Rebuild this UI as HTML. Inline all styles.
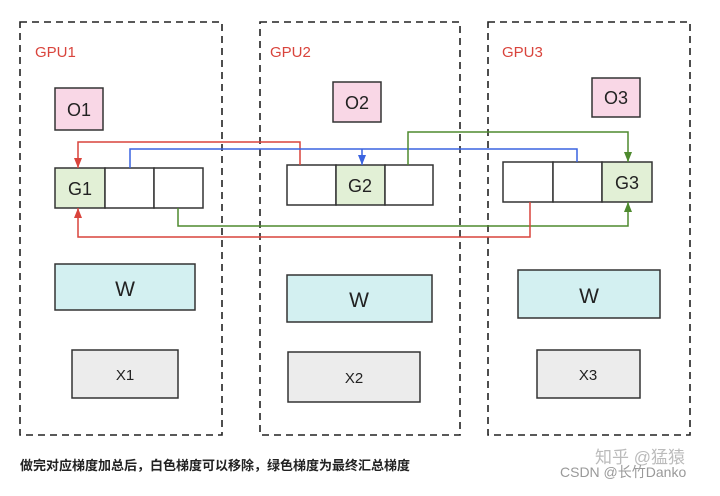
<!DOCTYPE html>
<html><head><meta charset="utf-8"><style>
body{margin:0;background:#fff;}
svg text{font-family:"Liberation Sans","Noto Sans CJK SC",sans-serif;}
</style></head><body>
<svg width="720" height="491" xmlns="http://www.w3.org/2000/svg">
<defs>
<marker id="r" markerWidth="8" markerHeight="10" refX="4" refY="10" orient="0" markerUnits="userSpaceOnUse"><path d="M0,0 L8,0 L4,10 z" fill="#d9443c"/></marker>
<marker id="ru" markerWidth="8" markerHeight="10" refX="4" refY="0" orient="0" markerUnits="userSpaceOnUse"><path d="M0,10 L8,10 L4,0 z" fill="#d9443c"/></marker>
<marker id="b" markerWidth="8" markerHeight="10" refX="4" refY="10" orient="0" markerUnits="userSpaceOnUse"><path d="M0,0 L8,0 L4,10 z" fill="#3a63e0"/></marker>
<marker id="g" markerWidth="8" markerHeight="10" refX="4" refY="10" orient="0" markerUnits="userSpaceOnUse"><path d="M0,0 L8,0 L4,10 z" fill="#4e8a2e"/></marker>
<marker id="gu" markerWidth="8" markerHeight="10" refX="4" refY="0" orient="0" markerUnits="userSpaceOnUse"><path d="M0,10 L8,10 L4,0 z" fill="#4e8a2e"/></marker>
</defs>
<g fill="none" stroke="#222" stroke-width="1.6" stroke-dasharray="7,5">
<rect x="20" y="22" width="202" height="413"/>
<rect x="260" y="22" width="200" height="413"/>
<rect x="488" y="22" width="202" height="413"/>
</g>
<g font-size="15" fill="#d9443c">
<text x="35" y="57">GPU1</text><text x="270" y="57">GPU2</text><text x="502" y="57">GPU3</text>
</g>
<g stroke="#333" stroke-width="1.5">
<rect x="55" y="88" width="48" height="42" fill="#f9d7e6"/>
<rect x="333" y="82" width="48" height="40" fill="#f9d7e6"/>
<rect x="592" y="78" width="48" height="39" fill="#f9d7e6"/>
<rect x="55" y="264" width="140" height="46" fill="#d3f0f1"/>
<rect x="287" y="275" width="145" height="47" fill="#d3f0f1"/>
<rect x="518" y="270" width="142" height="48" fill="#d3f0f1"/>
<rect x="72" y="350" width="106" height="48" fill="#ececec"/>
<rect x="288" y="352" width="132" height="50" fill="#ececec"/>
<rect x="537" y="350" width="103" height="48" fill="#ececec"/>
<rect x="55" y="168" width="50" height="40" fill="#e2f0d6"/><rect x="105" y="168" width="49" height="40" fill="#fff"/><rect x="154" y="168" width="49" height="40" fill="#fff"/>
<rect x="287" y="165" width="49" height="40" fill="#fff"/><rect x="336" y="165" width="49" height="40" fill="#e2f0d6"/><rect x="385" y="165" width="48" height="40" fill="#fff"/>
<rect x="503" y="162" width="50" height="40" fill="#fff"/><rect x="553" y="162" width="49" height="40" fill="#fff"/><rect x="602" y="162" width="50" height="40" fill="#e2f0d6"/>
</g>
<g font-size="18" fill="#222" text-anchor="middle">
<text x="79" y="116">O1</text><text x="357" y="109">O2</text><text x="616" y="104">O3</text>
<text x="80" y="195">G1</text><text x="360" y="192">G2</text><text x="627" y="189">G3</text>
<text x="125" y="296" font-size="21">W</text><text x="359" y="307" font-size="21">W</text><text x="589" y="303" font-size="21">W</text>
<text x="125" y="380" font-size="15">X1</text><text x="354" y="383" font-size="15">X2</text><text x="588" y="380" font-size="15">X3</text>
</g>
<g fill="none" stroke-width="1.5">
<path d="M300,165 V142 H78 V168" stroke="#d9443c" marker-end="url(#r)"/>
<path d="M130,168 V149 H577 V162" stroke="#3a63e0"/>
<path d="M362,149 V165" stroke="#3a63e0" marker-end="url(#b)"/>
<path d="M408,165 V132 H628 V162" stroke="#4e8a2e" marker-end="url(#g)"/>
<path d="M178,208 V226 H628 V202" stroke="#4e8a2e" marker-end="url(#gu)"/>
<path d="M530,202 V237 H78 V208" stroke="#d9443c" marker-end="url(#ru)"/>
</g>
<text x="20" y="470" font-size="13" font-weight="bold" fill="#222">做完对应梯度加总后，白色梯度可以移除，绿色梯度为最终汇总梯度</text>
<text x="595" y="463" font-size="17" fill="#bbb">知乎 @猛猿</text>
<text x="560" y="477" font-size="14" fill="#999">CSDN @长竹Danko</text>
</svg>
</body></html>
